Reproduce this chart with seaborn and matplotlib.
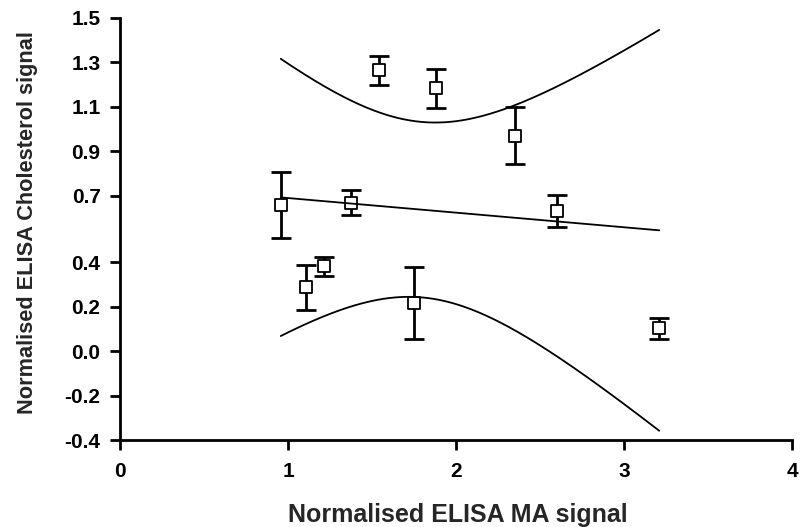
import numpy as np
import pandas as pd
import matplotlib
matplotlib.use("Agg")
import matplotlib.pyplot as plt
import seaborn as sns

# Mean signals with their error bars
ma_signal = [0.957, 1.105, 1.213, 1.374, 1.540, 1.748, 1.880, 2.349, 2.600, 3.210]
chol_signal = [0.658, 0.287, 0.383, 0.668, 1.266, 0.218, 1.183, 0.970, 0.632, 0.103]
err_upper = [0.147, 0.099, 0.041, 0.056, 0.064, 0.159, 0.086, 0.128, 0.072, 0.046]
err_lower = [0.149, 0.102, 0.045, 0.055, 0.066, 0.162, 0.088, 0.126, 0.072, 0.047]

x_ticks = [0, 1, 2, 3, 4]
y_ticks = [-0.4, -0.2, 0.0, 0.2, 0.4, 0.7, 0.9, 1.1, 1.3, 1.5]
x_label = "Normalised ELISA MA signal"
y_label = "Normalised ELISA Cholesterol signal"

# critical value for the confidence band of the linear fit
t_crit = 2.95

sns.set_theme(style="ticks")
plt.rcParams["font.family"] = ["Liberation Sans", "DejaVu Sans"]
plt.rcParams["font.weight"] = "bold"
plt.rcParams["axes.unicode_minus"] = False

df = pd.DataFrame({"x": ma_signal, "y": chol_signal,
                   "lo": err_lower, "hi": err_upper})

# Least-squares line and its confidence band
x = df["x"].to_numpy()
y = df["y"].to_numpy()
n = len(x)
xbar, ybar = x.mean(), y.mean()
sxx = ((x - xbar) ** 2).sum()
slope = ((x - xbar) * (y - ybar)).sum() / sxx
intercept = ybar - slope * xbar
resid = y - (intercept + slope * x)
s = np.sqrt((resid ** 2).sum() / (n - 2))
xf = np.linspace(x.min(), x.max(), 200)
yf = intercept + slope * xf
half = t_crit * s * np.sqrt(1.0 / n + (xf - xbar) ** 2 / sxx)
fit = pd.DataFrame({"x": xf, "fit": yf, "upper": yf + half, "lower": yf - half})

fig = plt.figure(figsize=(8.0, 5.27), dpi=100)
ax = fig.add_axes([0.15, 0.165, 0.84, 0.801])

ax.errorbar(df["x"], df["y"], yerr=[df["lo"], df["hi"]], fmt="none",
            ecolor="black", elinewidth=2.0, capsize=7, capthick=2.0, zorder=2)
sns.scatterplot(data=df, x="x", y="y", marker="s", s=85, facecolor="white",
                edgecolor="black", linewidth=1.3, ax=ax, zorder=3)
for col in ["fit", "upper", "lower"]:
    sns.lineplot(data=fit, x="x", y=col, color="black", linewidth=1.3,
                 ax=ax, zorder=4)

ax.set_xlim(0, 4)
ax.set_ylim(-0.4, 1.5)
ax.set_xticks(x_ticks)
ax.set_xticklabels([str(t) for t in x_ticks])
ax.set_yticks(y_ticks)
ax.set_yticklabels([f"{t:.1f}" for t in y_ticks])
ax.tick_params(axis="both", length=7.5, width=2, labelsize=15,
               color="black", labelcolor="black")
ax.tick_params(axis="y", pad=6.5)
ax.tick_params(axis="x", pad=8)
for lab in ax.get_xticklabels() + ax.get_yticklabels():
    lab.set_fontweight("bold")

for side in ["top", "right"]:
    ax.spines[side].set_visible(False)
for side in ["left", "bottom"]:
    ax.spines[side].set_linewidth(2)
    ax.spines[side].set_color("black")

ax.set_xlabel(x_label, fontsize=18, fontweight="bold")
ax.set_ylabel(y_label, fontsize=15.7, fontweight="bold")
ax.xaxis.set_label_coords(0.502, -0.148)
ax.yaxis.set_label_coords(-0.122, 0.515)

fig.savefig("out.png", dpi=100, facecolor="white")
